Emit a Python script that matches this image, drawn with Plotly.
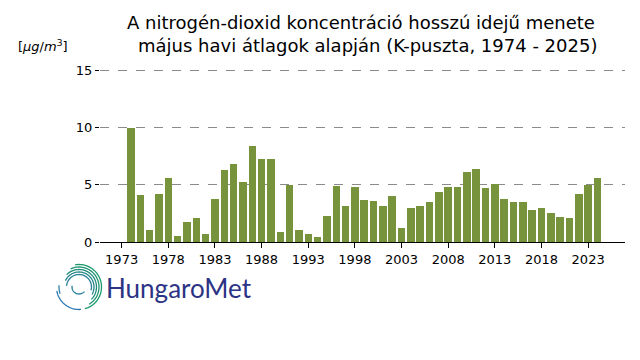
import math
import plotly.graph_objects as go

years = list(range(1974, 2025))
no2_may = [10.0, 4.1, 1.05, 4.2, 5.6, 0.5, 1.75, 2.1, 0.7, 3.75,
           6.3, 6.8, 5.25, 8.4, 7.25, 7.25, 0.85, 4.95, 1.05, 0.7,
           0.45, 2.25, 4.9, 3.15, 4.8, 3.65, 3.6, 3.15, 4.0, 1.2,
           2.95, 3.15, 3.5, 4.35, 4.8, 4.8, 6.1, 6.35, 4.7, 5.05,
           3.75, 3.5, 3.5, 2.8, 2.95, 2.55, 2.2, 2.1, 4.2, 4.95, 5.6]
x_ticks = list(range(1973, 2024, 5))
y_ticks = [0, 5, 10, 15]

O = 8  # page body margin offset
W, H = 640 - O, 360 - O
L, R, T, B = 100 - O, 15, 68 - O, 118
PW, PH = W - L - R, H - T - B


def px(xp, yp):
    # xp, yp are screen pixel coordinates
    return (xp - O - L) / PW, (H - B - (yp - O)) / PH


fig = go.Figure()
fig.add_trace(go.Bar(x=years, y=no2_may, width=0.8, marker_color="#77933c",
                     marker_line_width=0, showlegend=False))

font = "DejaVu Sans"
fig.update_layout(
    width=W, height=H, margin=dict(l=L, r=R, t=T, b=B),
    paper_bgcolor="white", plot_bgcolor="white",
    font=dict(family=font, size=13, color="black"),
    bargap=0,
)
fig.update_xaxes(range=[1970.68, 2026.95], tickvals=x_ticks, ticks="outside",
                 ticklen=5, tickcolor="black", showline=True, linecolor="black",
                 linewidth=1.3, showgrid=False, zeroline=False,
                 tickfont=dict(size=13))
fig.update_yaxes(range=[0, 15.2], tickvals=y_ticks, ticks="outside", ticklen=4,
                 tickcolor="black", showline=False, showgrid=True,
                 gridcolor="#8a8a8a", griddash="dash", gridwidth=1,
                 zeroline=False, tickfont=dict(size=13))

# title lines
for txt, yp, xc in [("A nitrogén-dioxid koncentráció hosszú idejű menete", 22, 361),
                    ("május havi átlagok alapján (K-puszta, 1974 - 2025)", 45, 367)]:
    xx, yy = px(xc, yp)
    fig.add_annotation(text=txt, x=xx, y=yy, xref="paper", yref="paper",
                       xanchor="center", yanchor="middle", showarrow=False,
                       font=dict(family=font, size=18, color="black"))

xx, yy = px(43, 46)
fig.add_annotation(text="[<i>μg</i>/<i>m</i><sup>3</sup>]", x=xx, y=yy,
                   xref="paper", yref="paper", xanchor="center", yanchor="middle",
                   showarrow=False, font=dict(family=font, size=13, color="black"))

# logo text
xx, yy = px(104, 288)
fig.add_annotation(text="HungaroMet", x=xx, y=yy, xref="paper", yref="paper",
                   xanchor="left", yanchor="middle", showarrow=False,
                   font=dict(family="Lato", size=26, color="#2c3384"))

# logo spiral (decoration)
cx, cy = 79, 287


def arc(r, a0, a1, n=40):
    pts = []
    for i in range(n + 1):
        a = math.radians(a0 + (a1 - a0) * i / n)
        pts.append(px(cx + r * math.cos(a), cy - r * math.sin(a)))
    return "M " + " L ".join(f"{p[0]:.5f},{p[1]:.5f}" for p in pts)


arcs = [
    (22.5, 100, -75, "#1f9a6c"), (20.0, 115, -60, "#1f9470"),
    (17.5, 135, -45, "#228c7c"), (15.0, 155, -30, "#25868a"),
    (12.5, 175, -15, "#297f98"),
    (22.5, 190, 275, "#2b78b5"), (20.0, 175, 200, "#2a80a6"),
    (7.0, 170, 320, "#2a7f9c"),
]
for r, a0, a1, c in arcs:
    fig.add_shape(type="path", path=arc(r, a0, a1), xref="paper", yref="paper",
                  line=dict(color=c, width=1.3))

fig.write_html("out.html")
